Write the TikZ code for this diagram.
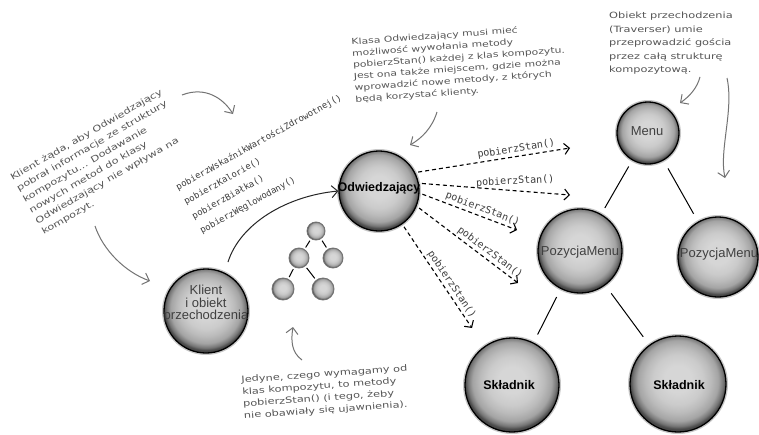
\documentclass[tikz,border=0pt]{standalone}
\usepackage{fontspec}
\setmainfont{DejaVu Sans}
\newfontfamily\handfont{DejaVu Sans}[FakeStretch=1.32]
\newfontfamily\codefont{DejaVu Sans Mono}
\newfontfamily\ballfont{Liberation Sans}
\usetikzlibrary{arrows.meta}

\definecolor{ballhi}{HTML}{D6D6D6}
\definecolor{ballsoft}{HTML}{CBCBCB}
\definecolor{ballmid}{HTML}{BBBBBB}
\definecolor{balllow}{HTML}{A4A4A4}
\definecolor{balldark}{HTML}{767676}
\definecolor{ballrim}{HTML}{474747}
\definecolor{inkgray}{HTML}{555555}
\definecolor{codegray}{HTML}{3C3C3C}

% shaded sphere used for every object
\pgfdeclareradialshading{sphere}{\pgfpoint{0bp}{3bp}}{%
  color(0bp)=(ballhi); color(7bp)=(ballhi); color(13bp)=(ballsoft);
  color(17bp)=(ballmid); color(21bp)=(balllow); color(23.5bp)=(balldark);
  color(25bp)=(ballrim); color(50bp)=(ballrim)}

\tikzset{
  ball/.style={circle, inner sep=0pt, minimum size=#1, shading=sphere,
    draw=black, line width=1.3pt,
    preaction={draw=black!70, line width=4pt, opacity=0.3}},
  smallball/.style={circle, inner sep=0pt, minimum size=#1, shading=sphere,
    draw=black!55, line width=0.9pt},
  balltext/.style={font=\ballfont\fontsize{13}{12.5}\selectfont,
    text=black!75, align=center, inner sep=0pt},
  boldtext/.style={font=\ballfont\bfseries\fontsize{12.5}{14}\selectfont,
    text=black, inner sep=0pt},
  hand/.style={font=\handfont\fontsize{8.6}{#1}\selectfont, text=inkgray,
    align=left, inner sep=0pt},
  codelist/.style={font=\codefont\fontsize{8.9}{16.5}\selectfont,
    text=codegray, align=left, inner sep=0pt},
  codelbl/.style={font=\codefont\fontsize{10}{12}\selectfont,
    text=codegray, inner sep=1pt},
  callarrow/.style={draw=black, dash pattern=on 4pt off 3pt, line width=1.1pt,
    shorten <=3pt, -{Straight Barb[length=5pt,width=11pt]}},
  notearrow/.style={draw=black!55, line width=1pt,
    -{Straight Barb[length=6pt,width=12pt]}},
  linkarrow/.style={draw=black!85, line width=1pt,
    -{Straight Barb[length=6pt,width=12pt]}},
  treeline/.style={draw=black, line width=1pt, shorten >=#1, shorten <=#1},
}

\begin{document}
\begin{tikzpicture}[x=1pt, y=-1pt]
\fill[white] (0,0) rectangle (759,434);
\useasboundingbox (0,0) rectangle (759,434);

% ---------- objects ----------
\node[ball=80pt] (odw) at (379,191) {};
\node[boldtext] (odwtxt) at (379,188) {Odwiedzający};

\node[ball=62pt] (menu) at (648,133) {};
\node[balltext] (menutxt) at (647,131) {Menu};

\node[ball=84pt] (pozl) at (580,251) {};
\node[balltext] (pozltxt) at (580,252) {PozycjaMenu};

\node[ball=80pt] (pozr) at (718,257) {};
\node[balltext] (pozrtxt) at (719,254) {PozycjaMenu};

\node[ball=94pt] (skl) at (512,385) {};
\node[boldtext] (skltxt) at (509,385) {Składnik};

\node[ball=96pt] (skr) at (678,384) {};
\node[boldtext] (skrtxt) at (679,385) {Składnik};

\node[ball=84pt] (cli) at (206,311) {};
\node[balltext] (clitxt) at (206,304) {Klient\\i obiekt\\przechodzenia};

% ---------- composite structure ----------
\draw[treeline=7pt] (menu) -- (pozl);
\draw[treeline=9pt] (menu) -- (pozr);
\draw[treeline=9pt] (pozl) -- (skl);
\draw[treeline=10pt] (pozl) -- (skr);

% ---------- small composite sketch ----------
\node[smallball=18pt] (t1) at (316,231) {};
\node[smallball=20pt] (t2) at (299,258) {};
\node[smallball=20pt] (t3) at (333,258) {};
\node[smallball=22pt] (t4) at (283,289) {};
\node[smallball=22pt] (t5) at (323,289) {};
\draw[treeline=2pt] (t1) -- (t2);
\draw[treeline=2pt] (t1) -- (t3);
\draw[treeline=2pt] (t2) -- (t4);
\draw[treeline=2pt] (t2) -- (t5);

% ---------- calls of pobierzStan() ----------
\coordinate (e1) at (570,148);
\coordinate (e2) at (570,195);
\coordinate (e3) at (517,230);
\coordinate (e4) at (518,283);
\coordinate (e5) at (472,328);
\draw[callarrow] (odw.27) -- (e1)
  node[codelbl, pos=0.66, sloped, above=1pt] {pobierzStan()};
\draw[callarrow] (odw.11) -- (e2)
  node[codelbl, pos=0.64, above=3pt, rotate=3] {pobierzStan()};
\draw[callarrow] (odw.-3) -- (e3)
  node[codelbl, pos=0.62, sloped, above=1pt] {pobierzStan()};
\draw[callarrow] (odw.-22) -- (e4)
  node[codelbl, pos=0.68, sloped, above=1pt] {pobierzStan()};
\draw[callarrow] (odw.-55) -- (e5)
  node[codelbl, pos=0.62, sloped, above=1pt] {pobierzStan()};

% ---------- client to visitor ----------
\coordinate (clitop) at (228,262);
\draw[linkarrow] (clitop) .. controls (240,224) and (286,196) .. (odw.west);

% ---------- visitor methods ----------
\node[codelist, rotate=29, anchor=north west] (methods) at (174.5,184)
  {pobierzWskaźnikWartościZdrowotnej()\\pobierzKalorie()\\pobierzBiałka()\\pobierzWęglowodany()};

% ---------- hand-written notes ----------
\node[hand=12.5pt, rotate=30, anchor=north west] (clientnote) at (9,175)
  {Klient żąda, aby Odwiedzający\\pobrał informacje ze struktury\\kompozytu... Dodawanie\\nowych metod do klasy\\Odwiedzający nie wpływa na\\kompozyt.};

\node[hand=11.5pt, rotate=4, anchor=north west,
      font=\handfont\fontsize{8.2}{11.5}\selectfont] (visitornote) at (351,38)
  {Klasa Odwiedzający musi mieć\\możliwość wywołania metody\\pobierzStan() każdej z klas kompozytu.\\Jest ona także miejscem, gdzie można\\wprowadzić nowe metody, z których\\będą korzystać klienty.};

\node[hand=13.5pt, anchor=north west] (traversernote) at (609,12)
  {Obiekt przechodzenia\\(Traverser) umie\\przeprowadzić gościa\\przez całą strukturę\\kompozytową.};

\node[hand=12pt, rotate=4, anchor=north west] (compositenote) at (241,376)
  {Jedyne, czego wymagamy od\\klas kompozytu, to metody\\pobierzStan() (i tego, żeby\\nie obawiały się ujawnienia).};

% ---------- note pointers ----------
\coordinate (na1) at (182,95);  \coordinate (nb1) at (233,114);
\draw[notearrow] (na1) .. controls (205,86) and (223,98) .. (nb1);
\coordinate (na2) at (95,226);  \coordinate (nb2) at (150,281);
\draw[notearrow] (na2) .. controls (103,250) and (125,272) .. (nb2);
\coordinate (na3) at (437,112); \coordinate (nb3) at (410,145);
\draw[notearrow] (na3) .. controls (432,128) and (422,138) .. (nb3);
\coordinate (na4) at (700,77);  \coordinate (nb4) at (680,103);
\draw[notearrow] (na4) .. controls (697,88) and (690,96) .. (nb4);
\coordinate (na5) at (727,78);  \coordinate (nb5) at (725,178);
\draw[notearrow] (na5) .. controls (734,110) and (719,150) .. (nb5);
\coordinate (na6) at (302,360); \coordinate (nb6) at (293,327);
\draw[notearrow] (na6) .. controls (291,352) and (291,340) .. (nb6);
\end{tikzpicture}
\end{document}
